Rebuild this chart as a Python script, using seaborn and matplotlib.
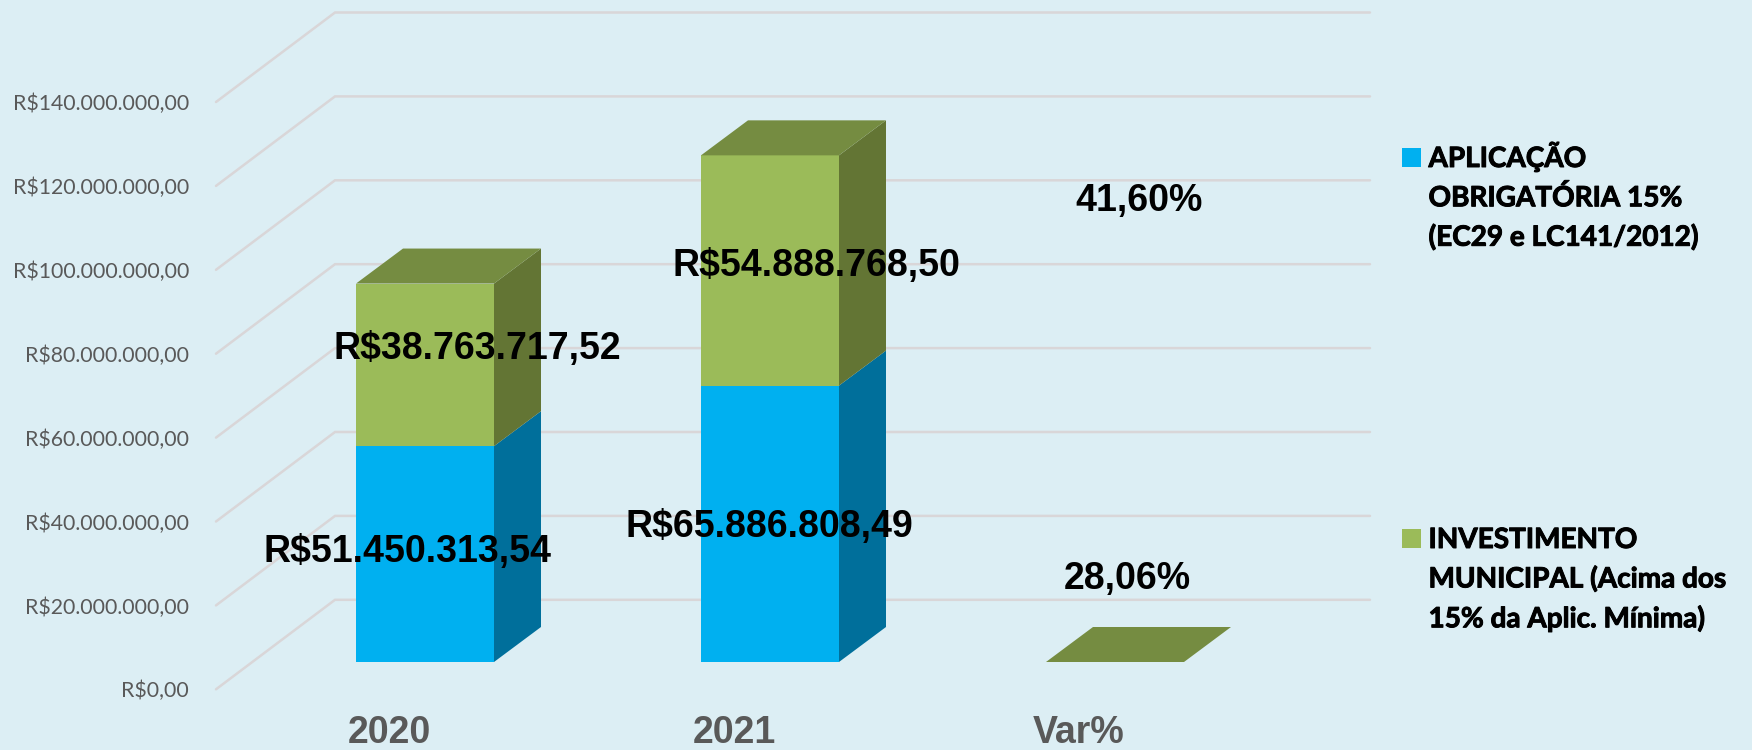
import matplotlib
matplotlib.use("Agg")
import matplotlib.pyplot as plt
import matplotlib.patheffects as pe
from matplotlib.lines import Line2D
from matplotlib.patches import Patch
from matplotlib.transforms import ScaledTranslation
import pandas as pd
import seaborn as sns

# ---- data ----
categories = ["2020", "2021", "Var%"]
aplicacao = [51450313.54, 65886808.49, 0.2806]
investimento = [38763717.52, 54888768.50, 0.4160]
tick_values = [0, 20e6, 40e6, 60e6, 80e6, 100e6, 120e6, 140e6]
legend_a = ["APLICAÇÃO", "OBRIGATÓRIA 15%", "(EC29 e LC141/2012)"]
legend_b = ["INVESTIMENTO", "MUNICIPAL (Acima dos", "15% da Aplic. Mínima)"]

# ---- style / geometry (pixels of the 1752x750 figure) ----
W, H, DPI = 1752, 750, 100
BG = "#DCEEF4"
BLUE, BLUE_SIDE = "#00B0F0", "#006F9B"
GREEN, GREEN_SIDE, GREEN_TOP = "#9BBB59", "#637534", "#758C41"
GRID = "#D9D6D8"
PX_PER_RS = 4.195e-6
PX_PER_CAT = 345.0
BASE_Y, CAT0_X = 662.0, 425.0
DEPTH_X, DEPTH_Y = 47.0, 35.0
WALL_L, WALL_R, WALL_Y = 216.0, 1370.0, 689.3
WALL_DX, WALL_DY = 119.0, 89.5


def brl(v):
    s = f"{v:,.2f}".replace(",", "X").replace(".", ",").replace("X", ".")
    return "R$" + s


sns.set_theme(style="white")
plt.rcParams["font.family"] = ["Liberation Sans", "DejaVu Sans"]
fig = plt.figure(figsize=(W / DPI, H / DPI), dpi=DPI, facecolor=BG)

# back wall + floor gridlines, with the value axis
wall = fig.add_axes([WALL_L / W, 1 - WALL_Y / H, (WALL_R - WALL_L) / W, WALL_Y / H])
wall.patch.set_alpha(0)
wall.set_xlim(0, WALL_R - WALL_L)
wall.set_ylim(0, WALL_Y / PX_PER_RS)
for v in tick_values:
    wall.plot([0, WALL_DX, WALL_R - WALL_L],
              [v, v + WALL_DY / PX_PER_RS, v + WALL_DY / PX_PER_RS],
              color=GRID, lw=1.8, clip_on=False, solid_joinstyle="miter")
wall.set_xticks([])
wall.set_yticks(tick_values)
wall.set_yticklabels([brl(v) for v in tick_values], family=["Lato", "DejaVu Sans"],
                     fontsize=15.35, color="#595959")
wall.tick_params(axis="y", length=0, pad=19.5)
sns.despine(ax=wall, left=True, bottom=True)

# bars
ax = fig.add_axes([0, 1 - BASE_Y / H, 1, BASE_Y / H])
ax.patch.set_alpha(0)
df = pd.DataFrame({"cat": categories, "a": aplicacao, "b": investimento})
sns.barplot(data=df, x="cat", y="a", color=BLUE, saturation=1, width=0.4, ax=ax, linewidth=0)
sns.barplot(data=df, x="cat", y="b", bottom=df["a"], color=GREEN, saturation=1, width=0.4,
            ax=ax, linewidth=0)
ax.set_xlim(-CAT0_X / PX_PER_CAT, (W - CAT0_X) / PX_PER_CAT)
ax.set_ylim(0, BASE_Y / PX_PER_RS)

dx = DEPTH_X / PX_PER_CAT
dy = DEPTH_Y / PX_PER_RS
hw = 0.2
for i, (a, b) in enumerate(zip(aplicacao, investimento)):
    top = a + b
    r = i + hw
    ax.fill([r, r + dx, r + dx, r], [0, dy, a + dy, a], color=BLUE_SIDE, lw=0, zorder=3)
    ax.fill([r, r + dx, r + dx, r], [a, a + dy, top + dy, top], color=GREEN_SIDE, lw=0, zorder=3)
    ax.fill([i - hw, r, r + dx, i - hw + dx], [top, top, top + dy, top + dy],
            color=GREEN_TOP, lw=0, zorder=3)

# category axis (labels sit left of the bar centres in the reference)
ax.set_xticks(range(len(categories)))
ax.set_xticklabels(categories, fontsize=27, fontweight="bold", color="#595959")
ax.tick_params(axis="x", length=0, pad=38.5)
shift = ScaledTranslation(-36 / DPI, 0, fig.dpi_scale_trans)
for lab in ax.get_xticklabels():
    lab.set_transform(lab.get_transform() + shift)
ax.set_xlabel("")
ax.set_ylabel("")
ax.set_yticks([])
sns.despine(ax=ax, left=True, bottom=True)

# data labels: anchored on each segment, nudged as in the reference (px right, px up)
nudges_a = [(-17, 2), (-1, -3.5), (12, 82.5)]
nudges_b = [(52, 16), (46, 4), (24, 460.5)]
var_labels = ["28,06%", "41,60%"]
for i in range(3):
    a, b = aplicacao[i], investimento[i]
    ta = brl(a) if i < 2 else var_labels[0]
    tb = brl(b) if i < 2 else var_labels[1]
    for txt, y, n in ((ta, a / 2, nudges_a[i]), (tb, a + b / 2, nudges_b[i])):
        ax.annotate(txt, xy=(i, y), xytext=(n[0] * 72 / DPI, n[1] * 72 / DPI),
                    textcoords="offset points", ha="center", va="center",
                    fontsize=27, fontweight="bold", color="black", zorder=5,
                    annotation_clip=False)


# legends: one block per series
def block(labels, color, top_px):
    handles = [Patch(facecolor=color, edgecolor="none")]
    handles += [Line2D([], [], alpha=0) for _ in labels[1:]]
    leg = fig.legend(handles, labels, loc="upper left",
                     bbox_to_anchor=(1402 / W, 1 - top_px / H),
                     frameon=False, borderpad=0, borderaxespad=0,
                     handlelength=0.68, handleheight=0.68, handletextpad=0.27,
                     labelspacing=0.44, prop={"family": ["Lato", "DejaVu Sans"],
                                              "weight": "bold", "size": 20.1})
    for t in leg.get_texts():
        t.set_color("black")
        t.set_path_effects([pe.withStroke(linewidth=0.7, foreground="black")])
    return leg


block(legend_a, BLUE, 141)
block(legend_b, GREEN, 527)

fig.savefig("out.png", dpi=DPI, facecolor=BG)
